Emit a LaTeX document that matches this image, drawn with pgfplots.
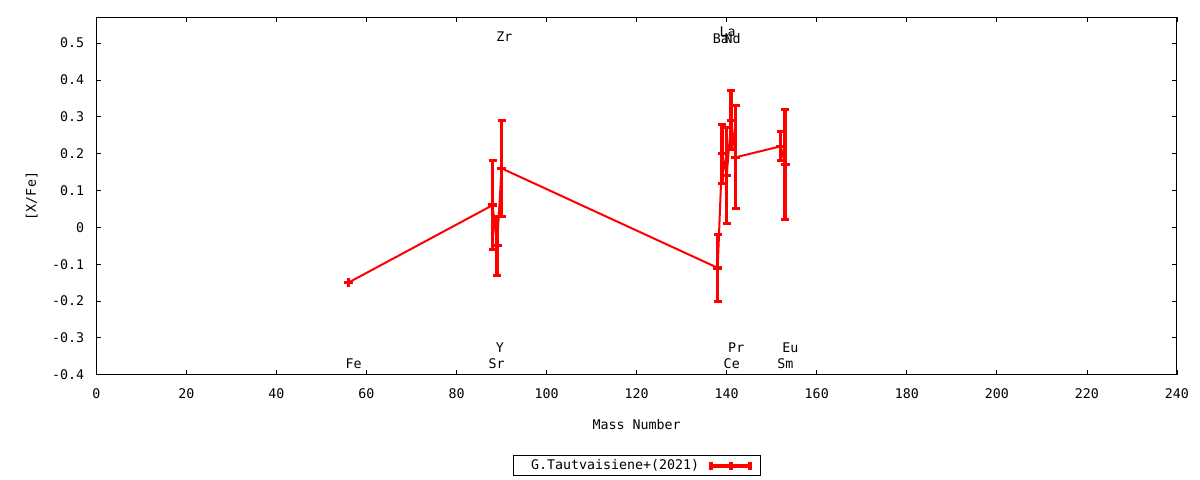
\documentclass[border=0pt]{standalone}
\usepackage{pgfplots}
\usepackage{pgfplotstable}
\pgfplotsset{compat=1.18}
\usepackage{fontspec}
\setmainfont{DejaVu Sans Mono}

\pgfplotstableread{
x y e
56 -0.15 0
88 0.06 0.12
89 -0.05 0.08
90 0.16 0.13
138 -0.11 0.09
139 0.20 0.08
140 0.14 0.13
141 0.29 0.08
142 0.19 0.14
152 0.22 0.04
153 0.17 0.15
}\datatable

\begin{document}
\begin{tikzpicture}[font=\fontsize{13.3bp}{16bp}\selectfont]
\useasboundingbox (0,0) rectangle (1200bp,480bp);
\begin{axis}[
  at={(96.3bp,105.3bp)}, anchor=south west,
  scale only axis, width=1080.7bp, height=357.4bp,
  xmin=0, xmax=240, ymin=-0.4, ymax=0.57,
  xtick={0,20,...,240},
  ytick={-0.4,-0.3,-0.2,-0.1,0,0.1,0.2,0.3,0.4,0.5},
  yticklabels={-0.4,-0.3,-0.2,-0.1,0,0.1,0.2,0.3,0.4,0.5},
  /pgf/number format/assume math mode=true,
  tick align=inside, tick pos=both,
  major tick length=4.5bp,
  every tick/.style={black, line width=0.8bp},
  axis line style={line width=1bp},
  xticklabel style={yshift=-10.2bp},
  yticklabel style={xshift=-8.6bp},
  xlabel={Mass Number},
  ylabel={[X/Fe]},
  xlabel style={at={(axis description cs:0.5,-0.1407)}, anchor=center},
  ylabel style={at={(axis description cs:-0.0598,0.5)}, anchor=center, rotate=0},
  legend plot pos=right,
  legend style={at={(axis description cs:0.5,-0.2546)}, anchor=center,
    draw=black, line width=0.8bp, inner xsep=0pt, inner ysep=4bp,
    nodes={inner sep=0pt},
    /tikz/every even column/.append style={column sep=0bp}},
  legend image code/.code={
    \draw[red, line width=4bp] (9bp,0bp) -- (52bp,0bp);
    \draw[red, line width=4bp] (11bp,-4bp) -- (11bp,4bp);
    \draw[red, line width=4bp] (30.5bp,-4bp) -- (30.5bp,4bp);
    \draw[red, line width=4bp] (50bp,-4bp) -- (50bp,4bp);
    \path (0bp,0bp) (59bp,0bp);
  },
]
\addplot[red, line width=2bp, mark=+, mark size=4.5bp,
  mark options={line width=3.5bp, solid},
  error bars/.cd, y dir=both, y explicit,
  error mark=|,
  error bar style={red, line width=3.5bp},
  error mark options={red, line width=3bp, mark size=4bp}]
  table[x=x, y=y, y error=e] {\datatable};
\addlegendentry{\hspace*{18bp}G.Tautvaisiene+(2021)}

\node[anchor=west, inner sep=0pt] at (axis cs:55.3,-0.370) {Fe};
\node[anchor=west, inner sep=0pt] at (axis cs:87.1,-0.370) {Sr};
\node[anchor=west, inner sep=0pt] at (axis cs:88.7,-0.326) {Y};
\node[anchor=west, inner sep=0pt] at (axis cs:88.8,0.517) {Zr};
\node[anchor=west, inner sep=0pt] at (axis cs:136.9,0.511) {Ba};
\node[anchor=west, inner sep=0pt] at (axis cs:138.4,0.530) {La};
\node[anchor=west, inner sep=0pt] at (axis cs:139.5,0.511) {Nd};
\node[anchor=west, inner sep=0pt] at (axis cs:139.3,-0.370) {Ce};
\node[anchor=west, inner sep=0pt] at (axis cs:140.3,-0.326) {Pr};
\node[anchor=west, inner sep=0pt] at (axis cs:151.2,-0.370) {Sm};
\node[anchor=west, inner sep=0pt] at (axis cs:152.3,-0.326) {Eu};
\end{axis}
\end{tikzpicture}
\end{document}
